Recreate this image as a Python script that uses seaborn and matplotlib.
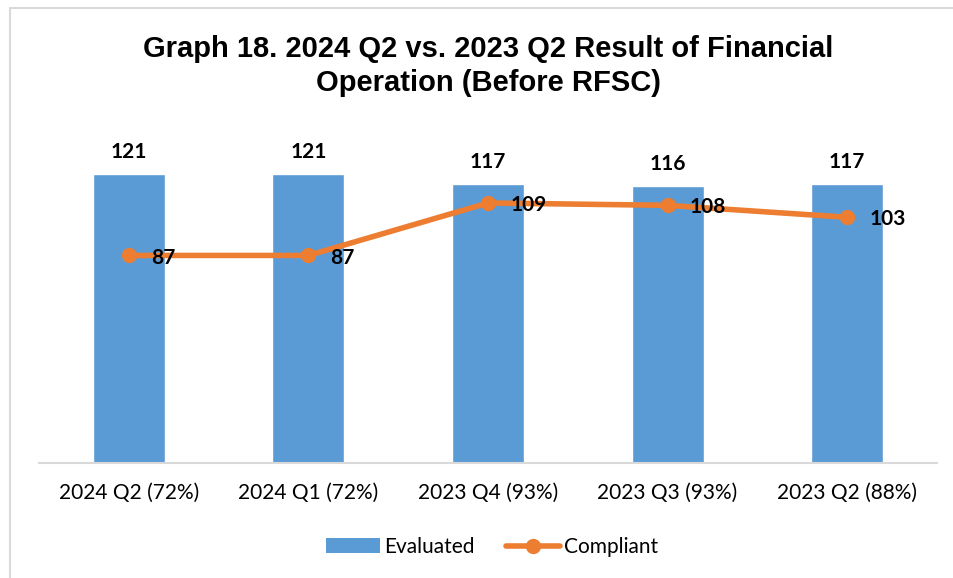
import numpy as np
import pandas as pd
import matplotlib.pyplot as plt
import seaborn as sns
from matplotlib.patches import Rectangle
from matplotlib.lines import Line2D
from matplotlib.patches import Patch

# Chart data
quarters = ['2024 Q2 (72%)', '2024 Q1 (72%)', '2023 Q4 (93%)', '2023 Q3 (93%)', '2023 Q2 (88%)']
evaluated = [121, 121, 117, 116, 117]
compliant = [87, 87, 109, 108, 103]

bar_color = '#5b9bd5'
line_color = '#ed7d31'

sns.set_theme(style="white")
plt.rcParams['font.family'] = ['Lato', 'DejaVu Sans']
plt.rcParams['text.color'] = 'black'

df = pd.DataFrame({'quarter': quarters, 'evaluated': evaluated, 'compliant': compliant})

fig = plt.figure(figsize=(9.54, 5.78), dpi=100)
ax = fig.add_axes([39 / 954, 1 - 463 / 578, (937 - 39) / 954, 334 / 578])

# Bars
sns.barplot(data=df, x='quarter', y='evaluated', color=bar_color, width=0.4,
            saturation=1, ax=ax)

# Line on top
sns.lineplot(x=np.arange(len(quarters)), y=df['compliant'], color=line_color,
             linewidth=4, marker='o', markersize=11, markeredgewidth=0, ax=ax)

ax.set_ylim(0, 140)
ax.set_xlim(-0.5, len(quarters) - 0.5)
ax.set_xlabel('')
ax.set_ylabel('')
ax.set_yticks([])
ax.tick_params(axis='x', length=0, labelsize=15, pad=14, colors='black')

for side in ['top', 'right', 'left']:
    ax.spines[side].set_visible(False)
ax.spines['bottom'].set_color('#d9d9d9')
ax.spines['bottom'].set_linewidth(1.5)

# Data labels
for i, v in enumerate(evaluated):
    ax.annotate(str(v), (i, v), xytext=(0, 16), textcoords='offset points',
                ha='center', va='center', fontsize=15, fontweight='bold', color='black')
for i, v in enumerate(compliant):
    ax.annotate(str(v), (i, v), xytext=(16, -1.5), textcoords='offset points',
                ha='left', va='center', fontsize=15, fontweight='bold', color='black')

# Title
fig.text(488 / 954, 1 - 66 / 578,
         'Graph 18. 2024 Q2 vs. 2023 Q2 Result of Financial\nOperation (Before RFSC)',
         ha='center', va='center', fontsize=21, fontweight='bold', color='black',
         family=['Liberation Sans', 'DejaVu Sans'], linespacing=1.3)

# Legend
handles = [Patch(facecolor=bar_color, edgecolor='none'),
           Line2D([0], [0], color=line_color, lw=4, marker='o', markersize=11,
                  markeredgewidth=0)]
fig.legend(handles, ['Evaluated', 'Compliant'], loc='center',
           bbox_to_anchor=(492 / 954, 1 - 547 / 578), ncol=2, frameon=False,
           fontsize=15, handlelength=2.6, handletextpad=0.2, columnspacing=1.5)

# Outer chart border
fig.patches.append(Rectangle((10 / 954, -0.1), 1.2, 1 - 8 / 578 + 0.1,
                             transform=fig.transFigure, fill=False,
                             edgecolor='#d9d9d9', linewidth=1.5, zorder=-1))

fig.savefig('out.png', dpi=100)
